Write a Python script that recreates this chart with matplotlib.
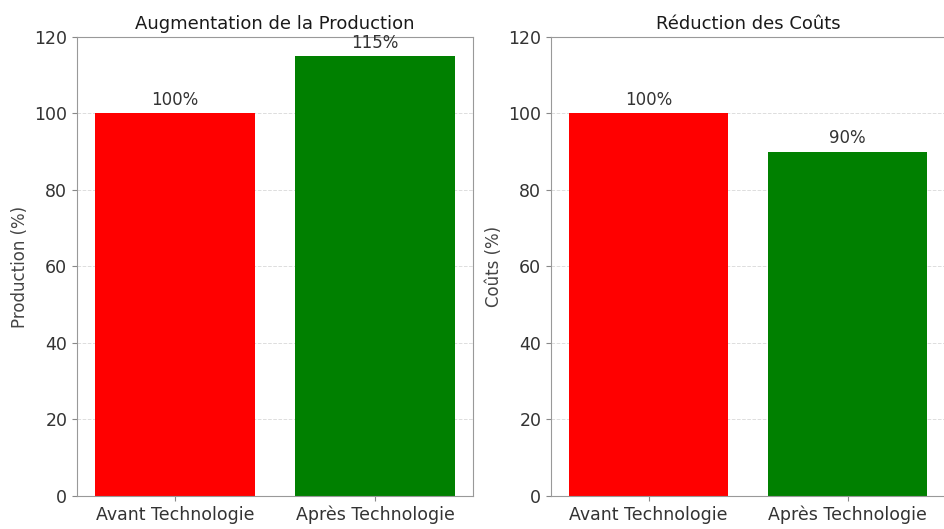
import matplotlib
matplotlib.use("Agg")
import matplotlib.pyplot as plt

categories = ["Avant Technologie", "Après Technologie"]
production = [100, 115]
couts = [100, 90]
colors = ["red", "green"]

plt.rcParams["font.family"] = ["DejaVu Sans"]

fig = plt.figure(figsize=(9.44, 5.29), dpi=100)
ax1 = fig.add_axes([0.0816, 0.0624, 0.4195, 0.8677])
ax2 = fig.add_axes([0.5837, 0.0624, 0.4175, 0.8677])

panels = [
    (ax1, production, "Augmentation de la Production", "Production (%)"),
    (ax2, couts, "Réduction des Coûts", "Coûts (%)"),
]

for ax, vals, title, ylabel in panels:
    bars = ax.bar(categories, vals, color=colors, width=0.8, zorder=2)
    for b, v in zip(bars, vals):
        ax.text(b.get_x() + b.get_width() / 2, v + 1.2, f"{v}%",
                ha="center", va="bottom", fontsize=12, color="#333333")
    ax.set_ylim(0, 120)
    ax.set_yticks(range(0, 121, 20))
    ax.set_title(title, fontsize=13, color="#1a1a1a", pad=6)
    ax.set_ylabel(ylabel, fontsize=12, color="#444444")
    ax.grid(axis="y", linestyle="--", color="#dddddd", linewidth=0.7, zorder=0)
    ax.tick_params(axis="both", labelsize=12.5, colors="#333333")
    ax.tick_params(axis="both", color="#888888")
    for s in ax.spines.values():
        s.set_color("#999999")

plt.savefig("out.png", dpi=100)
